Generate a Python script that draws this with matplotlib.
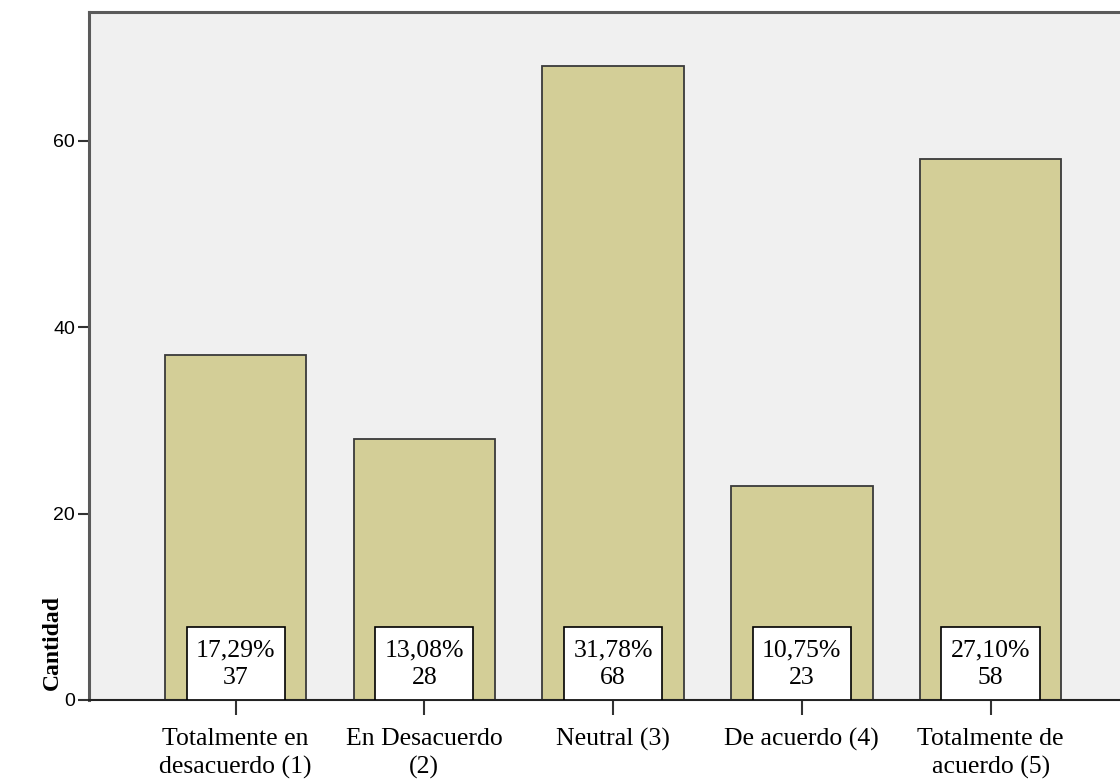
import matplotlib
matplotlib.use("Agg")
import matplotlib.pyplot as plt
from matplotlib.patches import Rectangle

# datos
categorias = ["Totalmente en\ndesacuerdo (1)", "En Desacuerdo\n(2)", "Neutral (3)",
              "De acuerdo (4)", "Totalmente de\nacuerdo (5)"]
cantidad = [37, 28, 68, 23, 58]
porcentaje = ["17,29%", "13,08%", "31,78%", "10,75%", "27,10%"]
yticks = [0, 20, 40, 60]

serif = ["Liberation Serif", "DejaVu Serif"]
sans = ["Liberation Sans", "DejaVu Sans"]

fig = plt.figure(figsize=(11.2, 7.83), dpi=100)
ax = fig.add_axes([89 / 1120, 83 / 783, 1045 / 1120, 688 / 783])
ax.set_facecolor("#f0f0f0")

x = list(range(len(categorias)))
ax.bar(x, cantidad, width=0.75, color="#d3ce97", edgecolor="#3a3a3a", linewidth=1.3, zorder=2)

# cajas con porcentaje y cantidad
for xi, p, c in zip(x, porcentaje, cantidad):
    ax.add_patch(Rectangle((xi - 0.26, 0), 0.52, 7.8, facecolor="white",
                           edgecolor="black", linewidth=1.2, zorder=3))
    ax.text(xi, 3.85, p + "\n" + str(c), ha="center", va="center", fontsize=18.5,
            family=serif, linespacing=1.3, zorder=4)

ax.set_xlim(-0.777, 4.76)
ax.set_ylim(0, 73.8)
ax.set_xticks(x)
ax.set_xticklabels(categorias, family=serif, fontsize=18.5, linespacing=1.35)
ax.set_yticks(yticks)
ax.set_yticklabels([str(v) for v in yticks], family=sans, fontsize=14)
ax.tick_params(axis="y", direction="out", length=8, width=1.5, color="#333333", pad=2)
ax.tick_params(axis="x", direction="out", length=11, width=1.5, color="#333333", pad=9)

for s in ["left", "top"]:
    ax.spines[s].set_color("#5a5a5a")
    ax.spines[s].set_linewidth(2.2)
ax.spines["bottom"].set_color("#222222")
ax.spines["bottom"].set_linewidth(1.5)
ax.spines["right"].set_visible(False)

fig.text(52 / 1120, 1 - 643 / 783, "Cantidad", rotation=90, ha="center", va="center",
         family=serif, fontsize=17, fontweight="bold")

fig.savefig("out.png", dpi=100)
